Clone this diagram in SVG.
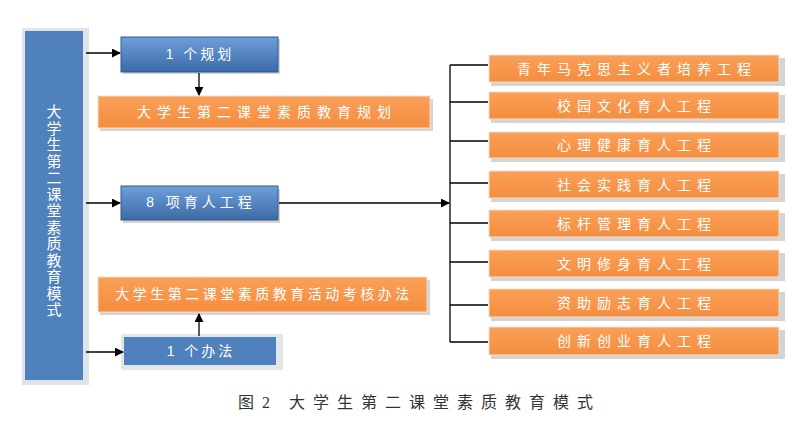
<svg xmlns="http://www.w3.org/2000/svg" width="806" height="427" viewBox="0 0 806 427">
<defs>
<linearGradient id="gBlue" x1="0" y1="0" x2="0" y2="1">
<stop offset="0" stop-color="#6f9fd6"/>
<stop offset="0.5" stop-color="#5585c2"/>
<stop offset="1" stop-color="#3d6aa3"/>
</linearGradient>
<linearGradient id="gOrange" x1="0" y1="0" x2="0" y2="1">
<stop offset="0" stop-color="#f9a05a"/>
<stop offset="1" stop-color="#f58d3e"/>
</linearGradient>
<marker id="arr" viewBox="0 0 10 10" refX="9" refY="5" markerWidth="9" markerHeight="9" markerUnits="userSpaceOnUse" orient="auto">
<path d="M0,0 L10,5 L0,10 z" fill="#000"/>
</marker>
</defs>
<style>
.sh{fill:#d4d4d4}
.blue{fill:url(#gBlue);stroke:#2f5b8f;stroke-width:1}
.bflat{fill:#4f81bd}
.or{fill:url(#gOrange);stroke:#f4ddc8;stroke-width:1}
.t{font-family:"Liberation Sans","Noto Sans CJK SC",sans-serif;font-size:14px;fill:#fff;text-anchor:middle;dominant-baseline:central}
.ln{stroke:#000;stroke-width:1.3;fill:none}
.cap{font-family:"Liberation Serif","Noto Sans CJK SC",serif;font-size:16px;fill:#333}
</style>
<rect width="806" height="427" fill="#fff"/>

<g id="left">
<rect x="22" y="28" width="67" height="357" fill="#dfe4ea"/>
<rect x="25" y="31" width="58" height="349" class="bflat"/>
<text class="t" x="54" y="0" style="font-size:15px">
<tspan x="54" y="111">大</tspan><tspan x="54" y="127.5">学</tspan><tspan x="54" y="144">生</tspan><tspan x="54" y="160.5">第</tspan><tspan x="54" y="177">二</tspan><tspan x="54" y="193.5">课</tspan><tspan x="54" y="210">堂</tspan><tspan x="54" y="226.5">素</tspan><tspan x="54" y="243">质</tspan><tspan x="54" y="259.5">教</tspan><tspan x="54" y="276">育</tspan><tspan x="54" y="292.5">模</tspan><tspan x="54" y="309">式</tspan>
</text>
</g>

<g id="plan1">
<rect x="123" y="39" width="157" height="35" class="sh"/>
<rect x="121" y="37" width="157" height="35" class="blue"/>
<text class="t" x="200" y="54" style="letter-spacing:3px">1 个规划</text>
</g>

<g id="plan">
<rect x="100" y="99" width="333" height="32" class="sh"/>
<rect x="98" y="96" width="332" height="32" class="or"/>
<text class="t" x="267" y="112" style="letter-spacing:6px">大学生第二课堂素质教育规划</text>
</g>

<g id="proj8">
<rect x="123" y="189" width="157" height="34" class="sh"/>
<rect x="121" y="186" width="157" height="34" class="blue"/>
<text class="t" x="201" y="202" style="letter-spacing:4px">8 项育人工程</text>
</g>

<g id="assess">
<rect x="100" y="280" width="330" height="35" class="sh"/>
<rect x="98" y="277" width="329" height="35" class="or"/>
<text class="t" x="264" y="294" style="letter-spacing:3.5px">大学生第二课堂素质教育活动考核办法</text>
</g>

<g id="method1">
<rect x="121" y="334" width="162" height="36" fill="#e2e6ea"/>
<rect x="124" y="337" width="152" height="28" class="bflat"/>
<text class="t" x="201" y="351" style="letter-spacing:3px">1 个办法</text>
</g>

<g id="p1"><rect x="491" y="58" width="294" height="28" class="sh"/><rect x="489" y="55" width="290" height="27" class="or"/><text class="t" x="637" y="69" style="letter-spacing:6px">青年马克思主义者培养工程</text></g>
<g id="p2"><rect x="491" y="95" width="294" height="28" class="sh"/><rect x="489" y="92" width="290" height="27" class="or"/><text class="t" x="637" y="106" style="letter-spacing:6px">校园文化育人工程</text></g>
<g id="p3"><rect x="491" y="135" width="294" height="27" class="sh"/><rect x="489" y="132" width="290" height="26" class="or"/><text class="t" x="637" y="145" style="letter-spacing:6px">心理健康育人工程</text></g>
<g id="p4"><rect x="491" y="174" width="294" height="28" class="sh"/><rect x="489" y="171" width="290" height="27" class="or"/><text class="t" x="637" y="185" style="letter-spacing:6px">社会实践育人工程</text></g>
<g id="p5"><rect x="491" y="213" width="294" height="28" class="sh"/><rect x="489" y="210" width="290" height="27" class="or"/><text class="t" x="637" y="224" style="letter-spacing:6px">标杆管理育人工程</text></g>
<g id="p6"><rect x="491" y="253" width="294" height="28" class="sh"/><rect x="489" y="250" width="290" height="27" class="or"/><text class="t" x="637" y="264" style="letter-spacing:6px">文明修身育人工程</text></g>
<g id="p7"><rect x="491" y="292" width="294" height="29" class="sh"/><rect x="489" y="289" width="290" height="28" class="or"/><text class="t" x="637" y="303" style="letter-spacing:6px">资助励志育人工程</text></g>
<g id="p8"><rect x="491" y="330" width="294" height="29" class="sh"/><rect x="489" y="327" width="290" height="28" class="or"/><text class="t" x="637" y="341" style="letter-spacing:6px">创新创业育人工程</text></g>

<g id="connectors">
<line class="ln" x1="86" y1="53" x2="120" y2="53" marker-end="url(#arr)"/>
<line class="ln" x1="199" y1="73" x2="199" y2="95" marker-end="url(#arr)"/>
<line class="ln" x1="86" y1="203" x2="120" y2="203" marker-end="url(#arr)"/>
<line class="ln" x1="86" y1="352" x2="123" y2="352" marker-end="url(#arr)"/>
<line class="ln" x1="199" y1="336" x2="199" y2="314" marker-end="url(#arr)"/>
<line class="ln" x1="279" y1="203" x2="449" y2="203" marker-end="url(#arr)"/>
<line class="ln" x1="450" y1="65" x2="450" y2="342"/>
<line class="ln" x1="450" y1="65" x2="488" y2="65"/>
<line class="ln" x1="450" y1="102" x2="488" y2="102"/>
<line class="ln" x1="450" y1="141" x2="488" y2="141"/>
<line class="ln" x1="450" y1="183" x2="488" y2="183"/>
<line class="ln" x1="450" y1="223" x2="488" y2="223"/>
<line class="ln" x1="450" y1="262" x2="488" y2="262"/>
<line class="ln" x1="450" y1="305" x2="488" y2="305"/>
<line class="ln" x1="450" y1="342" x2="488" y2="342"/>
</g>

<text class="cap" y="408"><tspan x="238">图</tspan><tspan x="262">2</tspan><tspan x="289" style="letter-spacing:8px">大学生第二课堂素质教育模式</tspan></text>
</svg>
